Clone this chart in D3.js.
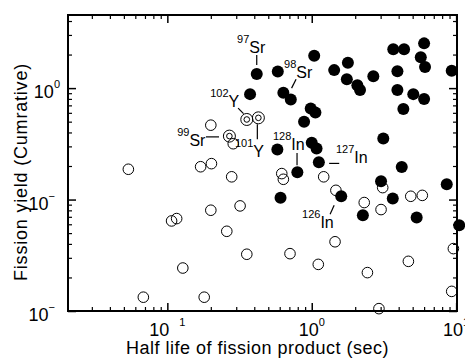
<!DOCTYPE html>
<html>
<head>
<meta charset="utf-8">
<script src="https://cdn.jsdelivr.net/npm/d3@7"></script>
<style>
  body { margin: 0; background: #fff; }
  text { font-family: "Liberation Sans", Arial, sans-serif; fill: #000; }
</style>
</head>
<body>
<div id="chart"></div>
<script>
// filled circles
const filledHalfLife = [0.416, 0.582, 0.374, 0.636, 0.716, 0.984, 1.06, 0.885, 1.04, 1.43, 1.78, 1.75, 2.07, 2.16,
    2.67, 3.67, 4.36, 6.0, 5.69, 6.09, 3.92, 9.32, 3.92, 5.05, 6.0, 4.31, 0.578, 1.0, 1.08, 1.12, 0.795, 0.608,
    3.13, 4.20, 3.02, 1.60, 3.64, 8.61, 2.26, 5.33, 10.5];
const filledYield = [1.34, 1.41, 0.883, 0.907, 0.791, 0.657, 0.605, 0.500, 1.95, 1.45, 1.69, 1.20, 1.06, 0.96,
    1.28, 2.23, 2.23, 2.52, 1.89, 1.55, 1.42, 1.43, 0.96, 0.883, 0.797, 0.648, 0.281, 0.323, 0.287, 0.216, 0.176, 0.104,
    0.353, 0.196, 0.146, 0.107, 0.102, 0.137, 0.0722, 0.0689, 0.0588];

// open circles
const openHalfLife = [0.200, 0.286, 0.202, 0.170, 0.279, 0.620, 0.636, 1.21, 1.47, 2.31, 3.10, 3.02, 4.85, 5.83,
    1.45, 9.57, 1.11, 2.43, 4.67, 9.32, 2.92, 0.319, 0.200, 0.107, 0.116, 0.258, 0.355, 0.707, 0.128, 0.0682,
    0.180, 0.0537];
const openYield = [0.465, 0.317, 0.210, 0.197, 0.160, 0.171, 0.152, 0.160, 0.121, 0.094, 0.128, 0.0813, 0.107, 0.109,
    0.0418, 0.0363, 0.0262, 0.0221, 0.0279, 0.0150, 0.0105, 0.0877, 0.0802, 0.0643, 0.0675, 0.0519, 0.0323, 0.0327,
    0.0243, 0.0133, 0.0133, 0.187];

// double circles
const doubleHalfLife = [0.355, 0.427, 0.269];
const doubleYield = [0.523, 0.541, 0.371];

// nuclide labels (text start, in data units) and their leader lines
const labelMass = ["97", "98", "102", "99", "101", "128", "127", "126"];
const labelElem = ["Sr", "Sr", "Y", "Sr", "Y", "In", "In", "In"];
const labelX = [0.304, 0.643, 0.198, 0.117, 0.294, 0.539, 1.47, 0.857];
const labelY = [2.06, 1.23, 0.675, 0.301, 0.240, 0.277, 0.212, 0.0552];
const leadX1 = [0.416, 0.779, 0.309, 0.185, 0.420, 0.791, 1.32, 1.43];
const leadY1 = [1.98, 1.20, 0.661, 0.365, 0.475, 0.261, 0.211, 0.0889];
const leadX2 = [0.416, 0.725, 0.337, 0.228, 0.420, 0.791, 1.55, 1.34];
const leadY2 = [1.61, 1.00, 0.590, 0.365, 0.348, 0.203, 0.211, 0.0738];

// tick labels
const xTickExp = [-1, 0, 1];
const xTickSup = ["1", "0", "1"];
const yTickExp = [0, -1, -2];
const yTickSup = ["0", "\u2212", "\u2212"];

const W = 465, H = 361;
const margin = { top: 15, right: 8, bottom: 50, left: 68 };
const width = 389, height = 296;

const svg = d3.select("#chart").append("svg")
    .attr("width", W).attr("height", H);
const g = svg.append("g").attr("transform", `translate(${margin.left},${margin.top})`);

const x = d3.scaleLog().domain([Math.pow(10, -1.688), Math.pow(10, 1.006)]).range([0, width]);
const y = d3.scaleLog().domain([0.01, Math.pow(10, 0.656)]).range([height, 0]);

function minors(scale) {
    let [a, b] = scale.domain();
    let out = [];
    for (let e = Math.floor(Math.log10(a)); e <= Math.ceil(Math.log10(b)); e++) {
        for (let k = 2; k <= 9; k++) {
            let v = k * Math.pow(10, e);
            if (v > a && v < b) out.push(v);
        }
    }
    return out;
}
const xMajor = [0.1, 1, 10], yMajor = [0.01, 0.1, 1];

function addAxis(axisFn, scale, majors, transform) {
    g.append("g").attr("transform", transform)
        .call(axisFn(scale).tickValues(majors).tickSize(-8).tickFormat("").tickSizeOuter(0))
        .call(s => s.select(".domain").remove())
        .selectAll("line").attr("stroke", "#000").attr("stroke-width", 1.5);
    g.append("g").attr("transform", transform)
        .call(axisFn(scale).tickValues(minors(scale)).tickSize(-4).tickFormat("").tickSizeOuter(0))
        .call(s => s.select(".domain").remove())
        .selectAll("line").attr("stroke", "#000").attr("stroke-width", 1.2);
}
addAxis(d3.axisBottom, x, xMajor, `translate(0,${height})`);
addAxis(d3.axisTop, x, xMajor, "translate(0,0)");
addAxis(d3.axisLeft, y, yMajor, "translate(0,0)");
addAxis(d3.axisRight, y, yMajor, `translate(${width},0)`);

g.append("rect")
    .attr("width", width).attr("height", height)
    .attr("fill", "none").attr("stroke", "#000").attr("stroke-width", 2);

// x tick labels
xTickExp.forEach((e, i) => {
    let t = g.append("text")
        .attr("x", x(Math.pow(10, e)))
        .attr("y", height + 25)
        .attr("text-anchor", "middle")
        .style("font-size", "18px");
    t.append("tspan").text("10");
    t.append("tspan")
        .attr("dy", -10)
        .attr("dx", e === -1 ? 10 : 0)
        .style("font-size", "11px")
        .text(xTickSup[i]);
});

// y tick labels
yTickExp.forEach((e, i) => {
    let t = g.append("text")
        .attr("x", e === 0 ? -8 : -13)
        .attr("y", y(Math.pow(10, e)) + 10)
        .attr("text-anchor", "end")
        .style("font-size", "18px");
    t.append("tspan").text("10");
    t.append("tspan")
        .attr("dy", -10)
        .style("font-size", "11px")
        .text(yTickSup[i]);
});

// axis titles
g.append("text")
    .attr("x", width / 2 - 5)
    .attr("y", height + 43)
    .attr("text-anchor", "middle")
    .style("font-size", "18px")
    .style("letter-spacing", "0.5px")
    .text("Half life of fission product (sec)");

g.append("text")
    .attr("transform", "rotate(-90)")
    .attr("x", -(157))
    .attr("y", -41)
    .attr("text-anchor", "middle")
    .style("font-size", "18px")
    .style("letter-spacing", "0.8px")
    .text("Fission yield (Cumrative)");

// leader lines
g.selectAll(".lead")
    .data(labelMass)
    .enter().append("line")
    .attr("class", "lead")
    .attr("x1", (d, i) => x(leadX1[i]))
    .attr("y1", (d, i) => y(leadY1[i]))
    .attr("x2", (d, i) => x(leadX2[i]))
    .attr("y2", (d, i) => y(leadY2[i]))
    .attr("stroke", "#000")
    .attr("stroke-width", 1.2);

// open circles
g.selectAll(".open")
    .data(openHalfLife)
    .enter().append("circle")
    .attr("class", "open")
    .attr("cx", d => x(d))
    .attr("cy", (d, i) => y(openYield[i]))
    .attr("r", 5.3)
    .attr("fill", "none")
    .attr("stroke", "#000")
    .attr("stroke-width", 1);

// double circles
let dbl = g.selectAll(".dbl")
    .data(doubleHalfLife)
    .enter().append("g")
    .attr("class", "dbl")
    .attr("transform", (d, i) => `translate(${x(d)},${y(doubleYield[i])})`);
dbl.append("circle").attr("r", 6).attr("fill", "none").attr("stroke", "#000").attr("stroke-width", 1);
dbl.append("circle").attr("r", 2.8).attr("fill", "none").attr("stroke", "#000").attr("stroke-width", 1);

// filled circles
g.selectAll(".dot")
    .data(filledHalfLife)
    .enter().append("circle")
    .attr("class", "dot")
    .attr("cx", d => x(d))
    .attr("cy", (d, i) => y(filledYield[i]))
    .attr("r", 6)
    .attr("fill", "#000");

// nuclide labels
labelMass.forEach((m, i) => {
    let t = g.append("text")
        .attr("x", x(labelX[i]))
        .attr("y", y(labelY[i]));
    t.append("tspan")
        .attr("dy", -10)
        .style("font-size", "11px")
        .text(m);
    t.append("tspan")
        .attr("dy", 10)
        .style("font-size", "16px")
        .text(labelElem[i]);
});
</script>
</body>
</html>
